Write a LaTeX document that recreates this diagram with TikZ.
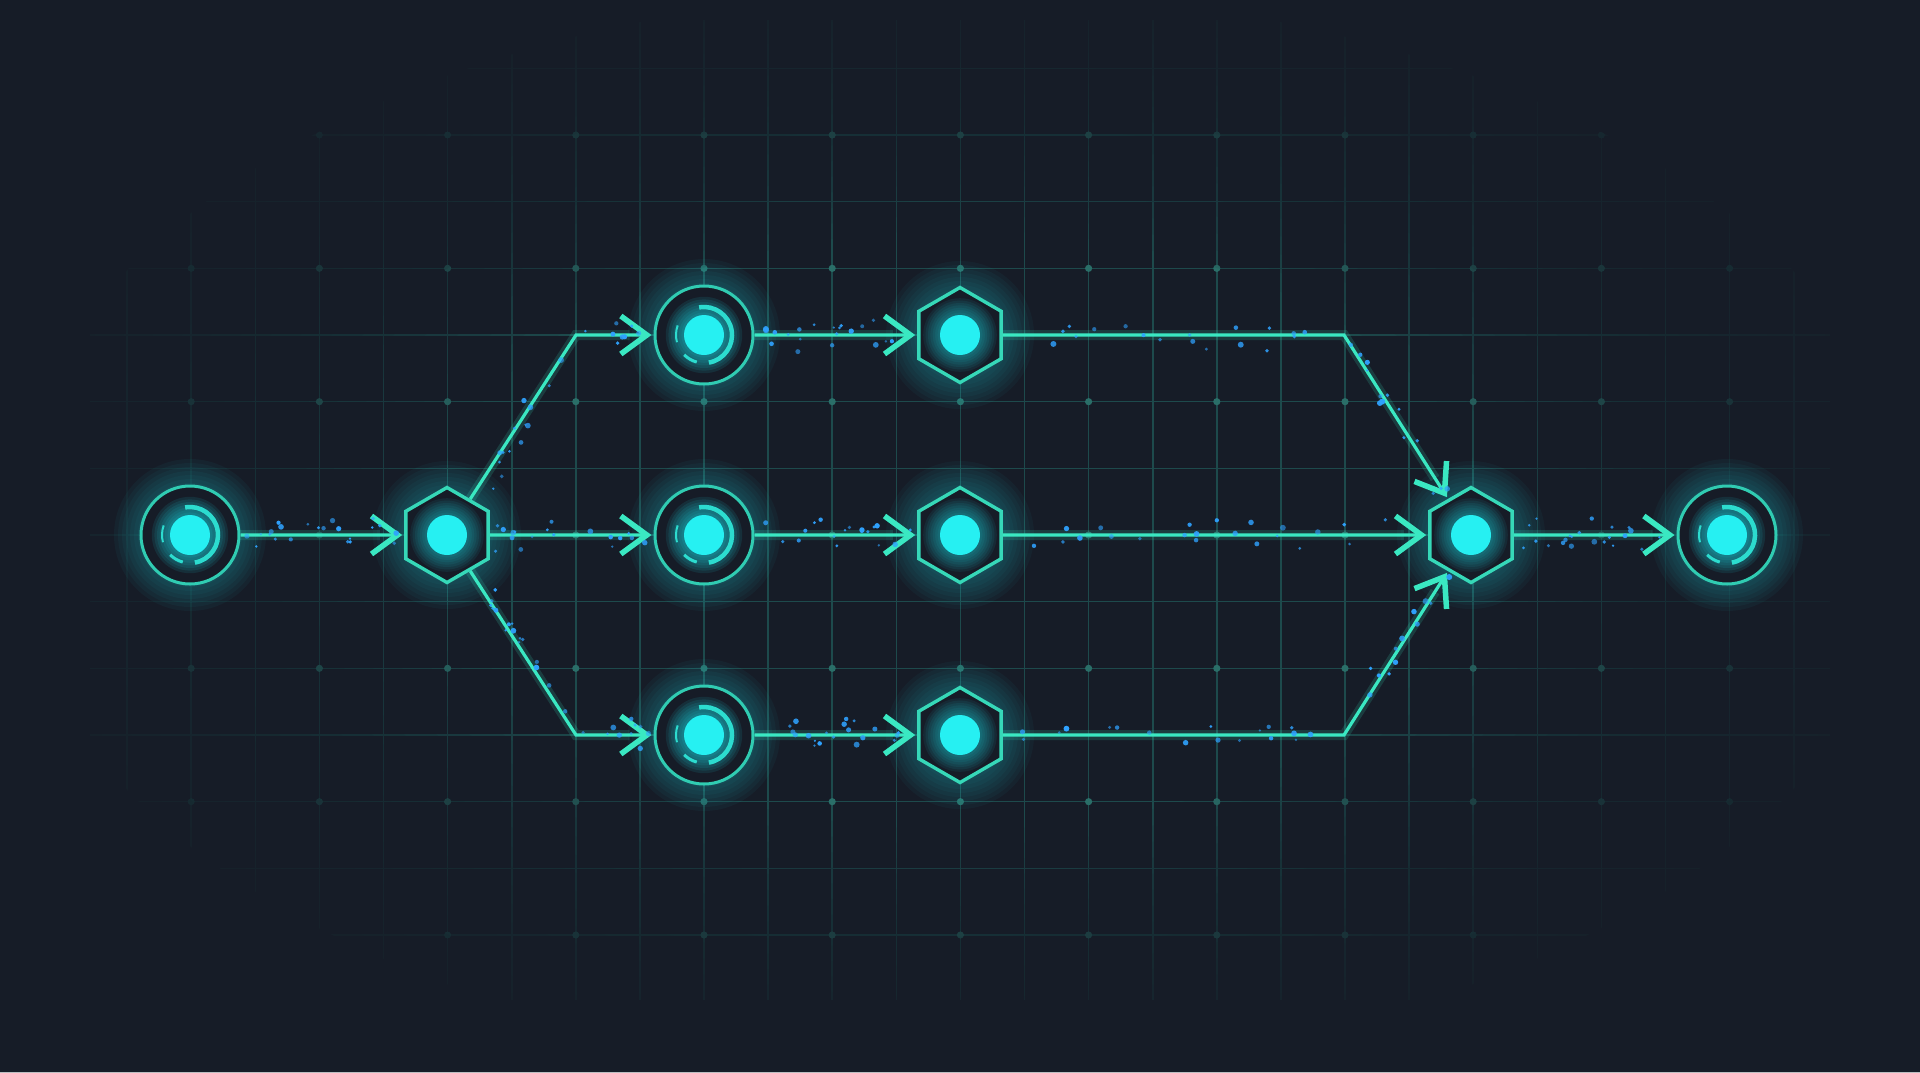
\documentclass[tikz,border=0pt]{standalone}
\usetikzlibrary{arrows.meta,shapes.geometric,calc}
\definecolor{bgc}{HTML}{161C27}
\definecolor{gridc}{HTML}{1D4A4C}
\definecolor{gdot}{HTML}{2A6E68}
\definecolor{linkc}{HTML}{3AE8C2}
\definecolor{hexc}{HTML}{36D8B8}
\definecolor{ringc}{HTML}{30CCB2}
\definecolor{dotc}{HTML}{26F0F2}
\definecolor{glowc}{HTML}{1ED8E2}
\definecolor{partc}{HTML}{2FA2FF}

\tikzset{
  gridline/.style={draw=gridc, line width=1.6pt},
  ringnode/.style={circle, draw=ringc, line width=3pt, minimum size=98pt, inner sep=0pt, fill=bgc},
  hexnode/.style={regular polygon, regular polygon sides=6, rotate=30, draw=hexc, line width=3.4pt, minimum size=95pt, inner sep=0pt, fill=bgc},
  link/.style={draw=linkc, line width=3.2pt, shorten >=2pt, -{Straight Barb[length=26pt,width=38pt,line width=5.5pt]},
    preaction={draw=linkc, line width=10pt, opacity=0.16, -, shorten >=24pt}},
}

% soft glow made of stacked translucent discs
\newcommand\glow[4]{% centre, inner radius, step, opacity
  \foreach \g in {0,...,7} { \fill[glowc, opacity=#4] #1 circle ({#2+#3*\g}); }}

\newcommand\ringunit[2]{%
  \glow{#2}{48}{4}{0.045}
  \node[ringnode] (#1) at #2 {};
  \glow{(#1.center)}{20}{2.6}{0.1}
  \draw[ringc!55!dotc, line width=4.5pt] (#1.center) ++(80:28) arc[start angle=80, end angle=-100, radius=28];
  \draw[ringc!55!dotc, line width=3pt] (#1.center) ++(105:28) arc[start angle=105, end angle=135, radius=28];
  \draw[ringc!55!dotc, line width=2pt] (#1.center) ++(165:28) arc[start angle=165, end angle=200, radius=28];
  \fill[dotc] (#1.center) circle (20);
}
\newcommand\hexunit[2]{%
  \glow{#2}{46}{4}{0.04}
  \node[hexnode] (#1) at #2 {};
  \glow{(#1.center)}{20}{2.4}{0.08}
  \fill[dotc] (#1.center) circle (20);
}
\newcommand\sparkle[5]{%
  \foreach \k in {1,...,#5}{%
    \pgfmathsetmacro\pT{rnd}%
    \pgfmathsetmacro\pX{(rnd-0.5)*12}%
    \pgfmathsetmacro\pY{(rnd+rnd-1)*20}%
    \pgfmathsetmacro\pR{1.2+1.8*rnd}%
    \pgfmathsetmacro\pO{0.55+0.45*rnd}%
    \fill[partc, opacity=\pO] ($(#1,#2)!\pT!(#3,#4)+(\pX,\pY)$) circle (\pR);
  }}

\begin{document}
\begin{tikzpicture}[x=1pt,y=-1pt]
\useasboundingbox (0,0) rectangle (1920,1072);
\fill[bgc] (0,0) rectangle (1920,1072);
% grid
\foreach \i in {-9,...,17} { \draw[gridline] ({704+64.1*\i},20) -- ({704+64.1*\i},1000); }
\foreach \j in {-7,...,6} { \draw[gridline] (90,{535+66.67*\j}) -- (1830,{535+66.67*\j}); }
\foreach \i in {-4,...,8} { \foreach \j in {-3,...,3} { \fill[gdot] ({704+128.2*\i},{535+133.33*\j}) circle (3.6); } }
% vignette: stacked elliptical masks
\foreach \k in {0,...,15} {
  \fill[bgc, opacity=0.1, even odd rule] (0,0) rectangle (1920,1072)
    (960,530) ellipse [x radius={960*(0.55+0.028*\k)}, y radius={545*(0.55+0.028*\k)}];
}
\fill[bgc, even odd rule] (0,0) rectangle (1920,1072)
    (960,530) ellipse [x radius={960*0.99}, y radius={545*0.99}];

% bend points
\coordinate (b1) at (576,335);
\coordinate (b3) at (576,735);
\coordinate (b4) at (1344,335);
\coordinate (b6) at (1344,735);

% nodes
\ringunit{A}{(190,535)}
\hexunit{H1}{(447,535)}
\ringunit{C1}{(704,335)}
\ringunit{C2}{(704,535)}
\ringunit{C3}{(704,735)}
\hexunit{H2a}{(960,335)}
\hexunit{H2b}{(960,535)}
\hexunit{H2c}{(960,735)}
\hexunit{M}{(1471,535)}
\ringunit{Z}{(1727,535)}

% connectors
\draw[link] (A) -- (H1);
\draw[link] (H1) -- (C2);
\draw[link] (H1) -- (b1) -- (C1);
\draw[link] (H1) -- (b3) -- (C3);
\draw[link] (C1) -- (H2a);
\draw[link] (C2) -- (H2b);
\draw[link] (C3) -- (H2c);
\draw[link] (H2a) -- (b4) -- (M);
\draw[link] (H2b) -- (M);
\draw[link] (H2c) -- (b6) -- (M);
\draw[link] (M) -- (Z);

% particles
\pgfmathsetseed{7}
\sparkle{250}{535}{395}{535}{22}
\sparkle{500}{535}{650}{535}{18}
\sparkle{478}{490}{576}{340}{14}
\sparkle{580}{335}{650}{335}{8}
\sparkle{478}{580}{576}{730}{16}
\sparkle{580}{735}{650}{735}{10}
\sparkle{760}{335}{905}{335}{20}
\sparkle{760}{535}{905}{535}{18}
\sparkle{760}{735}{905}{735}{20}
\sparkle{1010}{335}{1330}{335}{18}
\sparkle{1350}{345}{1450}{500}{14}
\sparkle{1010}{535}{1420}{535}{22}
\sparkle{1010}{735}{1330}{735}{18}
\sparkle{1350}{725}{1450}{570}{12}
\sparkle{1522}{535}{1668}{535}{22}
\end{tikzpicture}
\end{document}
